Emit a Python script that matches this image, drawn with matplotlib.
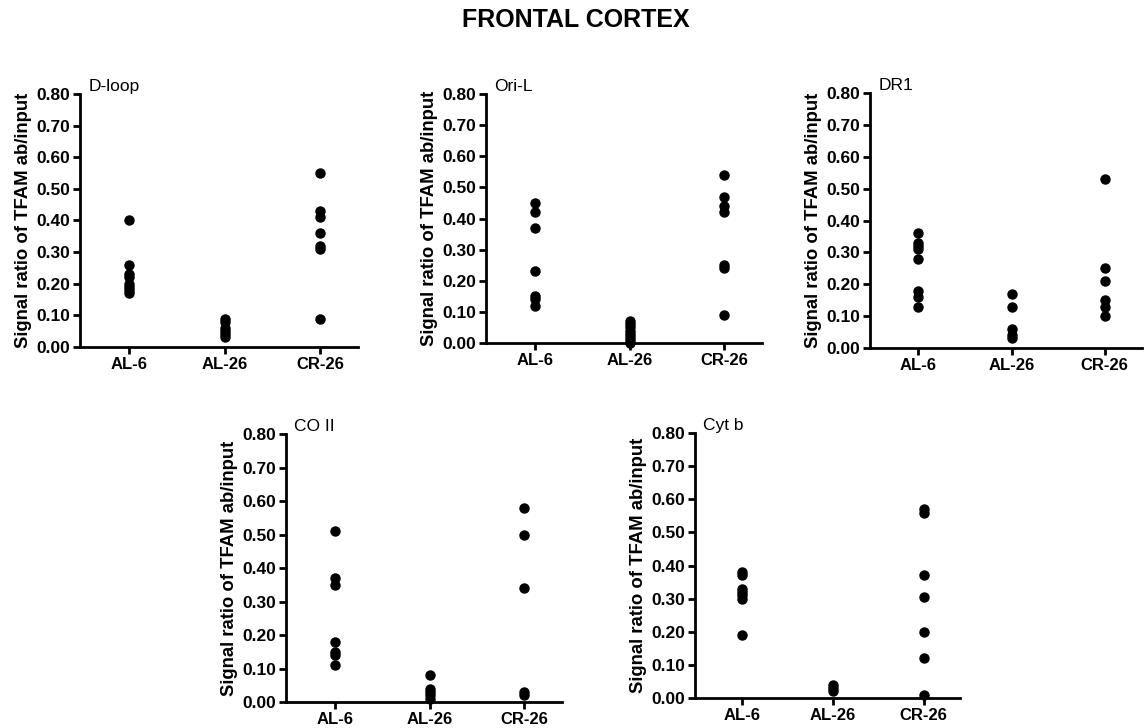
import numpy as np
from matplotlib import pyplot as plt

plt.rcParams['font.family'] = ['Liberation Sans', 'DejaVu Sans']

groups = ["AL-6", "AL-26", "CR-26"]

# values, one list per group
dloop = [[0.40, 0.26, 0.23, 0.22, 0.20, 0.19, 0.18, 0.17],
         [0.09, 0.08, 0.06, 0.05, 0.04, 0.03],
         [0.55, 0.43, 0.41, 0.36, 0.32, 0.31, 0.09]]
oril = [[0.45, 0.42, 0.37, 0.23, 0.15, 0.14, 0.12],
        [0.07, 0.06, 0.05, 0.04, 0.03, 0.02, 0.01, 0.00],
        [0.54, 0.47, 0.44, 0.42, 0.25, 0.24, 0.09]]
dr1 = [[0.36, 0.33, 0.32, 0.31, 0.28, 0.18, 0.16, 0.13],
       [0.17, 0.13, 0.06, 0.04, 0.03],
       [0.53, 0.25, 0.21, 0.15, 0.13, 0.10]]
co2 = [[0.51, 0.37, 0.35, 0.18, 0.15, 0.14, 0.11],
       [0.08, 0.04, 0.03, 0.02, 0.01],
       [0.58, 0.50, 0.34, 0.03, 0.02]]
cytb = [[0.38, 0.37, 0.33, 0.32, 0.31, 0.30, 0.19],
        [0.04, 0.03, 0.02],
        [0.57, 0.56, 0.37, 0.305, 0.20, 0.12, 0.01]]

names = ["D-loop", "Ori-L", "DR1", "CO II", "Cyt b"]
datasets = [dloop, oril, dr1, co2, cytb]

# axes boxes in figure fraction [left, bottom, width, height]
boxes = [[0.0699, 0.5234, 0.243, 0.3475],
         [0.4248, 0.5288, 0.2413, 0.342],
         [0.7605, 0.522, 0.2378, 0.350],
         [0.250, 0.0357, 0.241, 0.368],
         [0.6075, 0.0412, 0.2316, 0.364]]

fig = plt.figure(figsize=(11.44, 7.28), dpi=100)
fig.text(0.503, 0.972, "FRONTAL CORTEX", ha="center", va="center",
         fontsize=18, fontweight="bold")

for i in range(len(names)):
    ax = fig.add_axes(boxes[i])
    data = datasets[i]
    for g in range(len(groups)):
        ax.plot([g] * len(data[g]), data[g], "o", color="black",
                markersize=6.5, clip_on=False, zorder=3)

    ax.set_xlim(-0.52, 2.4)
    ax.set_ylim(0, 0.8)
    ax.set_xticks(range(len(groups)))
    ax.set_xticklabels(groups, fontsize=12, fontweight="bold")
    ticks = np.arange(0, 0.81, 0.1)
    ax.set_yticks(ticks)
    ax.set_yticklabels(["%.2f" % t for t in ticks], fontsize=12.5,
                       fontweight="bold")
    ax.set_ylabel("Signal ratio of TFAM ab/input", fontsize=13.3,
                  fontweight="bold", labelpad=3)
    ax.spines["top"].set_visible(False)
    ax.spines["right"].set_visible(False)
    ax.spines["left"].set_linewidth(2)
    ax.spines["bottom"].set_linewidth(2)
    ax.tick_params(width=2, length=5, direction="out", pad=2)
    ax.text(0.03, 1.0, names[i], transform=ax.transAxes, ha="left",
            va="bottom", fontsize=12.5)

plt.savefig("out.png", dpi=100)
